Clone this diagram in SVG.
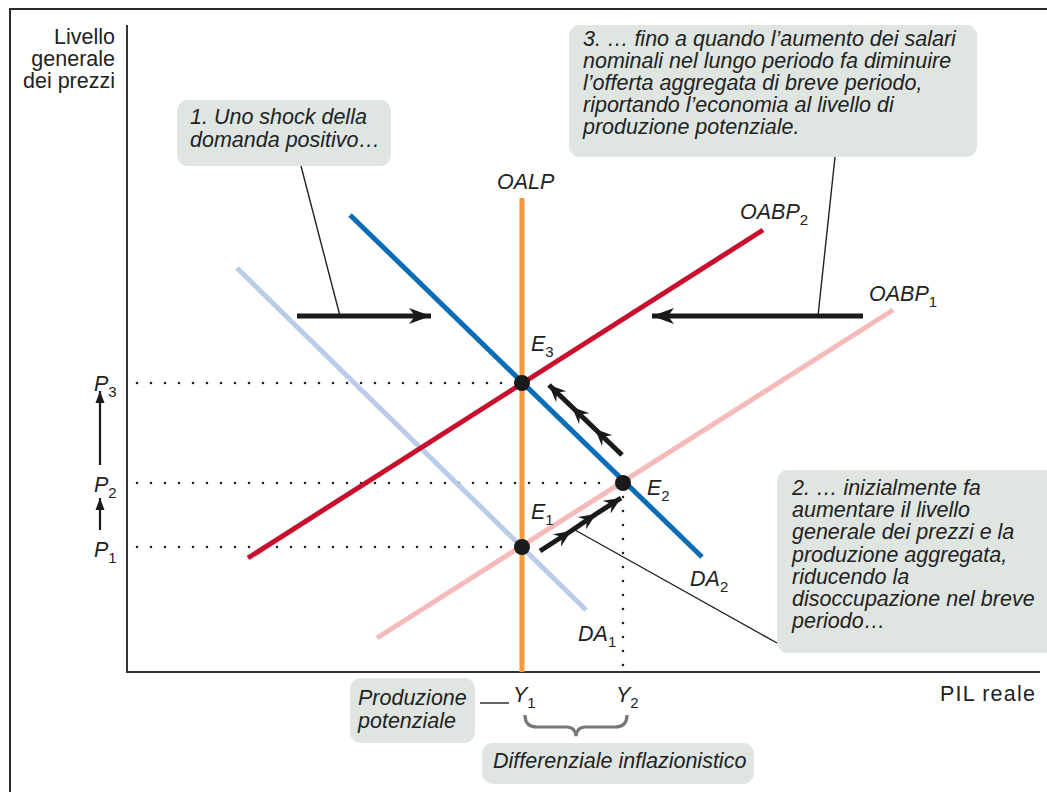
<svg xmlns="http://www.w3.org/2000/svg" width="1047" height="792" viewBox="0 0 1047 792">
  <style>
    text { font-family: "Liberation Sans", Arial, "DejaVu Sans", sans-serif; fill: #222; }
    .lbl { font-size: 21.5px; }
    .it { font-style: italic; }
    .sub { font-size: 15px; font-style: normal; }
    .box { fill: #dfe6e2; }
    .lead { stroke: #222; stroke-width: 1.4; fill: none; }
    .dots { stroke: #222; stroke-width: 2.6; stroke-linecap: round; stroke-dasharray: 0 14; fill: none; }
    .curve { stroke-width: 5; fill: none; }
    .move { stroke: #1a1a1a; stroke-width: 5; fill: none; }
  </style>
  <defs>
    <marker id="head" viewBox="-24 -10 26 20" markerWidth="26" markerHeight="20" refX="0" refY="0" orient="auto" markerUnits="userSpaceOnUse">
      <path d="M0,0 L-22,-8 L-16,0 L-22,8 Z" fill="#1a1a1a"/>
    </marker>
    <marker id="barb" viewBox="-18 -9 20 18" markerWidth="20" markerHeight="18" refX="0" refY="0" orient="auto" markerUnits="userSpaceOnUse">
      <path d="M0,0 L-17,-7.5 L-11,0 L-17,7.5 Z" fill="#1a1a1a"/>
    </marker>
    <marker id="up" viewBox="-14 -6 16 12" markerWidth="16" markerHeight="12" refX="0" refY="0" orient="auto" markerUnits="userSpaceOnUse">
      <path d="M0,0 L-12,-4.5 L-12,4.5 Z" fill="#1a1a1a"/>
    </marker>
  </defs>

  <!-- outer frame -->
  <rect x="10" y="9" width="1045" height="790" fill="#fff" stroke="#2a2a2a" stroke-width="2"/>

  <!-- axes -->
  <g id="axes">
    <line x1="127" y1="25" x2="127" y2="672" stroke="#333" stroke-width="2"/>
    <line x1="126" y1="672" x2="1040" y2="672" stroke="#333" stroke-width="2"/>
    <text class="lbl" x="115" y="44" text-anchor="end">Livello</text>
    <text class="lbl" x="115" y="66" text-anchor="end">generale</text>
    <text class="lbl" x="115" y="88" text-anchor="end">dei prezzi</text>
    <text class="lbl" x="940" y="701" letter-spacing="1.2">PIL reale</text>
  </g>

  <!-- guide lines -->
  <g id="guides">
    <line class="dots" x1="137" y1="383" x2="512" y2="383"/>
    <line class="dots" x1="137" y1="483" x2="612" y2="483"/>
    <line class="dots" x1="137" y1="547" x2="512" y2="547"/>
    <line class="dots" x1="623" y1="497" x2="623" y2="670"/>
  </g>

  <!-- curves -->
  <g id="curves">
    <line id="DA1" class="curve" x1="237" y1="268" x2="586" y2="610" stroke="#b9cce8"/>
    <line id="OABP1" class="curve" x1="377" y1="638" x2="893" y2="310" stroke="#f6baba"/>
    <line id="OALP" class="curve" x1="522" y1="198" x2="522" y2="672" stroke="#f39a3b"/>
    <line id="DA2" class="curve" x1="350" y1="215" x2="702" y2="557" stroke="#0a6db5"/>
    <line id="OABP2" class="curve" x1="248" y1="558" x2="763" y2="230" stroke="#c8102e"/>
  </g>

  <!-- curve labels -->
  <g id="curve-labels">
    <text class="lbl it" x="497" y="189">OALP</text>
    <text class="lbl it" x="740" y="219">OABP<tspan class="sub" dy="6">2</tspan></text>
    <text class="lbl it" x="869" y="301">OABP<tspan class="sub" dy="6">1</tspan></text>
    <text class="lbl it" x="690" y="586">DA<tspan class="sub" dy="6">2</tspan></text>
    <text class="lbl it" x="578" y="641">DA<tspan class="sub" dy="6">1</tspan></text>
  </g>

  <!-- equilibria -->
  <g id="E1">
    <circle cx="522" cy="547" r="8" fill="#1a1a1a"/>
    <text class="lbl it" x="531" y="519">E<tspan class="sub" dy="6">1</tspan></text>
  </g>
  <g id="E2">
    <circle cx="623" cy="483" r="8" fill="#1a1a1a"/>
    <text class="lbl it" x="647" y="495">E<tspan class="sub" dy="6">2</tspan></text>
  </g>
  <g id="E3">
    <circle cx="522" cy="383" r="8" fill="#1a1a1a"/>
    <text class="lbl it" x="531" y="351">E<tspan class="sub" dy="6">3</tspan></text>
  </g>

  <!-- price levels -->
  <g id="prices">
    <text class="lbl it" x="94" y="391">P<tspan class="sub" dy="6">3</tspan></text>
    <text class="lbl it" x="94" y="492">P<tspan class="sub" dy="6">2</tspan></text>
    <text class="lbl it" x="94" y="557">P<tspan class="sub" dy="6">1</tspan></text>
  </g>

  <!-- output levels -->
  <g id="outputs">
    <text class="lbl it" x="513" y="702">Y<tspan class="sub" dy="6">1</tspan></text>
    <text class="lbl it" x="616" y="702">Y<tspan class="sub" dy="6">2</tspan></text>
    <path d="M525,715 Q525,727 537,727 L567,727 Q575,727 576,736 Q577,727 585,727 L615,727 Q627,727 627,715" fill="none" stroke="#777" stroke-width="3.2"/>
  </g>

  <!-- callouts -->
  <g id="callout-1">
    <rect class="box" x="177" y="100" width="214" height="66" rx="11"/>
    <text class="lbl it" x="190" y="124">1. Uno shock della</text>
    <text class="lbl it" x="190" y="147">domanda positivo…</text>
  </g>
  <g id="callout-3">
    <rect class="box" x="569" y="25" width="408" height="132" rx="11"/>
    <text class="lbl it" x="583" y="46">3. … fino a quando l’aumento dei salari</text>
    <text class="lbl it" x="583" y="68">nominali nel lungo periodo fa diminuire</text>
    <text class="lbl it" x="583" y="90">l’offerta aggregata di breve periodo,</text>
    <text class="lbl it" x="583" y="112">riportando l’economia al livello di</text>
    <text class="lbl it" x="583" y="134">produzione potenziale.</text>
  </g>
  <g id="callout-2">
    <rect class="box" x="777" y="470" width="280" height="183" rx="11"/>
    <text class="lbl it" x="792" y="495">2. … inizialmente fa</text>
    <text class="lbl it" x="792" y="517">aumentare il livello</text>
    <text class="lbl it" x="792" y="539">generale dei prezzi e la</text>
    <text class="lbl it" x="792" y="562">produzione aggregata,</text>
    <text class="lbl it" x="792" y="584">riducendo la</text>
    <text class="lbl it" x="792" y="606">disoccupazione nel breve</text>
    <text class="lbl it" x="792" y="628">periodo…</text>
  </g>
  <g id="callout-potential">
    <rect class="box" x="350" y="678" width="125" height="65" rx="11"/>
    <text class="lbl it" x="358" y="705">Produzione</text>
    <text class="lbl it" x="358" y="728">potenziale</text>
  </g>
  <g id="callout-gap">
    <rect class="box" x="482" y="743" width="272" height="41" rx="11"/>
    <text class="lbl it" x="493" y="768">Differenziale inflazionistico</text>
  </g>

  <!-- connectors -->
  <g id="connectors">
    <line class="lead" x1="301" y1="166" x2="340" y2="316"/>
    <line class="lead" x1="835" y1="157" x2="818" y2="316"/>
    <line class="lead" x1="575" y1="530" x2="777" y2="643"/>
    <line class="lead" x1="480" y1="703" x2="509" y2="703"/>
    <line class="move" x1="297" y1="316" x2="431" y2="316" marker-end="url(#head)"/>
    <line class="move" x1="863" y1="316" x2="652" y2="316" marker-end="url(#head)"/>
    <polyline class="move" points="540,551 571,531 596,514 621,498" marker-mid="url(#barb)" marker-end="url(#barb)"/>
    <polyline class="move" points="622,455 595,429 572,407 549,385" marker-mid="url(#barb)" marker-end="url(#barb)"/>
    <line x1="100" y1="530" x2="100" y2="498" stroke="#1a1a1a" stroke-width="2.2" marker-end="url(#up)"/>
    <line x1="100" y1="465" x2="100" y2="391" stroke="#1a1a1a" stroke-width="2.2" marker-end="url(#up)"/>
  </g>
</svg>
